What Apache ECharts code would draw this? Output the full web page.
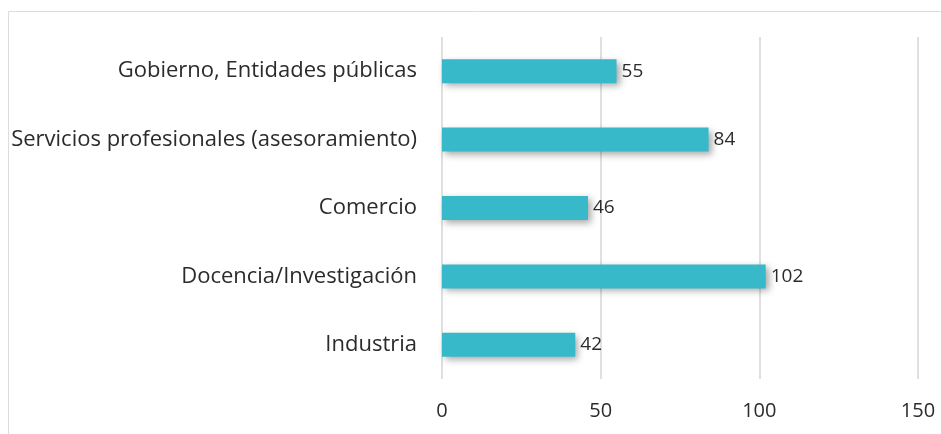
<!DOCTYPE html>
<html style="height: 100%">
<head>
    <meta charset="utf-8">
    <title>ECharts</title>
    <script src="https://cdn.jsdelivr.net/npm/echarts@6/dist/echarts.min.js"></script>
</head>
<body style="height: 100%; margin: 0; background: #fff">
<div id="main" style="width: 941px; height: 434px"></div>

<script type="text/javascript">
    // data
    var categories = ['Gobierno, Entidades públicas', 'Servicios profesionales (asesoramiento)', 'Comercio', 'Docencia/Investigación', 'Industria'];
    var values = [55, 84, 46, 102, 42];
    var xTicks = [0, 50, 100, 150];

    var myChart = echarts.init(document.getElementById('main'));

    var option = {
        backgroundColor: '#fff',
        textStyle: {fontFamily: 'Open Sans'},
        graphic: [{
            type: 'rect',
            shape: {x: 8.5, y: 11.5, width: 1000, height: 500},
            style: {fill: 'none', stroke: '#dcdcdc', lineWidth: 1}
        }],
        grid: {left: 442, right: 23, top: 37, bottom: 55},
        xAxis: {
            type: 'value',
            min: xTicks[0],
            max: xTicks[xTicks.length - 1],
            interval: 50,
            axisLine: {show: false},
            axisTick: {show: false},
            axisLabel: {fontSize: 20, color: '#2b2b2b', margin: 22},
            splitLine: {lineStyle: {color: '#d6d6d6', width: 1.5}}
        },
        yAxis: {
            type: 'category',
            inverse: true,
            data: categories,
            axisLine: {show: false},
            axisTick: {show: false},
            axisLabel: {fontSize: 22, color: '#2b2b2b', margin: 25}
        },
        series: [{
            type: 'bar',
            data: values,
            barWidth: 24,
            itemStyle: {
                color: '#38b9c9',
                shadowColor: 'rgba(0, 0, 0, 0.35)',
                shadowBlur: 7,
                shadowOffsetX: 3,
                shadowOffsetY: 3
            },
            label: {
                show: true,
                position: 'right',
                distance: 5,
                fontSize: 19,
                color: '#2b2b2b'
            }
        }]
    };
    myChart.setOption(option, true);
</script>
</body>
</html>
